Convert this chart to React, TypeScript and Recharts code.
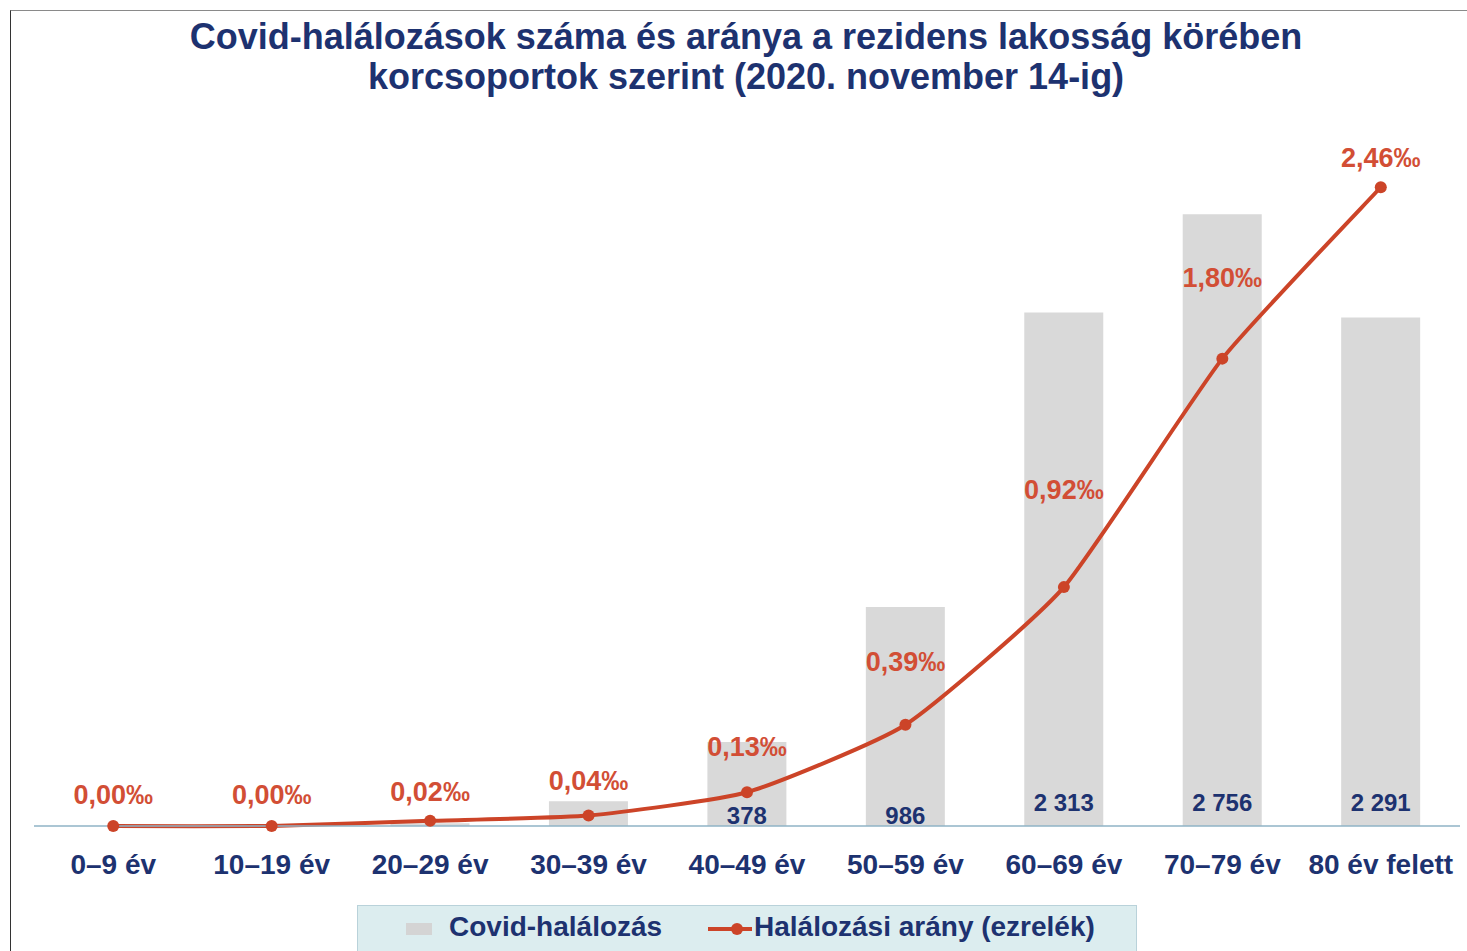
import React from "react";
import { ComposedChart, Bar, Line, XAxis, YAxis, LabelList } from "recharts";

const categories = ["0–9 év", "10–19 év", "20–29 év", "30–39 év", "40–49 év", "50–59 év", "60–69 év", "70–79 év", "80 év felett"];
const deaths = [0, 1, 12, 112, 378, 986, 2313, 2756, 2291];
const rate = [0.0, 0.0, 0.02, 0.04, 0.13, 0.39, 0.92, 1.8, 2.46];
const rateLabels = ["0,00‰", "0,00‰", "0,02‰", "0,04‰", "0,13‰", "0,39‰", "0,92‰", "1,80‰", "2,46‰"];
const deathLabels = ["", "", "", "", "378", "986", "2 313", "2 756", "2 291"];

// label placement (style only)
const rateLabelLift = [31, 31, 29, 35, 45, 63, 97, 81, 29];
const deathLabelDrop = [11, 11, 11, 11, 11, 11, 24, 24, 24];

const data = categories.map((c, i) => ({
  cat: c,
  deaths: deaths[i],
  rate: rate[i],
  idx: i,
}));

const NAVY = "#1d3270";
const RED = "#cc4428";
const RED_TEXT = "#d24e35";
const FONT = "'Liberation Sans', Arial, sans-serif";

// Cardinal-style smoothing (like spreadsheet "smoothed line")
const SMOOTH = 1 / 12;
function smoothCurve(context: any) {
  let pts: [number, number][] = [];
  return {
    areaStart() {},
    areaEnd() {},
    lineStart() {
      pts = [];
    },
    point(x: number, y: number) {
      pts.push([+x, +y]);
    },
    lineEnd() {
      if (!pts.length) return;
      context.moveTo(pts[0][0], pts[0][1]);
      for (let i = 0; i < pts.length - 1; i++) {
        const p0 = pts[Math.max(0, i - 1)];
        const p1 = pts[i];
        const p2 = pts[i + 1];
        const p3 = pts[Math.min(pts.length - 1, i + 2)];
        const c1x = p1[0] + (p2[0] - p0[0]) * SMOOTH;
        const c1y = p1[1] + (p2[1] - p0[1]) * SMOOTH;
        const c2x = p2[0] - (p3[0] - p1[0]) * SMOOTH;
        const c2y = p2[1] - (p3[1] - p1[1]) * SMOOTH;
        context.bezierCurveTo(c1x, c1y, c2x, c2y, p2[0], p2[1]);
      }
    },
  };
}

const RateLabel = (props: any) => {
  const { x, y, index } = props;
  return (
    <text
      x={x}
      y={y - rateLabelLift[index]}
      textAnchor="middle"
      dominantBaseline="central"
      fill={RED_TEXT}
      fontFamily={FONT}
      fontWeight="bold"
      fontSize={27}
    >
      {rateLabels[index]}
    </text>
  );
};

const DeathLabel = (props: any) => {
  const { x, y, width, height, value } = props;
  const i = Number(value);
  const txt = deathLabels[i];
  if (!txt) return null;
  return (
    <text
      x={x + width / 2}
      y={y + height - deathLabelDrop[i]}
      textAnchor="middle"
      dominantBaseline="central"
      fill={NAVY}
      fontFamily={FONT}
      fontWeight="bold"
      fontSize={24}
    >
      {txt}
    </text>
  );
};

export default function App() {
  return (
    <div style={{ position: "absolute", left: 0, top: 0, width: 1467, height: 951, background: "#fff", overflow: "hidden", fontFamily: FONT }}>
      <div style={{ position: "absolute", left: 10, top: 10, width: 1457, height: 941, borderTop: "1px solid #8a8a8a", borderLeft: "1px solid #333", boxSizing: "border-box" }} />
      <div style={{ position: "absolute", left: 0, top: 17, width: 1492, textAlign: "center", color: NAVY, fontWeight: "bold", fontSize: 36, lineHeight: "40px", whiteSpace: "nowrap" }}>
        Covid-halálozások száma és aránya a rezidens lakosság körében
        <br />
        korcsoportok szerint (2020. november 14-ig)
      </div>
      <div style={{ position: "absolute", left: 0, top: 0 }}>
        <ComposedChart width={1467} height={951} data={data} margin={{ top: 160, right: 7, left: 34, bottom: 85 }} barCategoryGap="25%">
          <XAxis
            dataKey="cat"
            height={40}
            axisLine={{ stroke: "#8fb3c6", strokeWidth: 1.5 }}
            tickLine={false}
            tick={{ fill: NAVY, fontSize: 28, fontWeight: "bold", fontFamily: FONT }}
            tickMargin={22}
            interval={0}
          />
          <YAxis yAxisId="left" hide domain={[0, 3000]} />
          <YAxis yAxisId="right" orientation="right" hide domain={[0, 2.565]} />
          <Bar yAxisId="left" dataKey="deaths" fill="#d9d9d9" isAnimationActive={false}>
            <LabelList dataKey="idx" content={DeathLabel} />
          </Bar>
          <Line
            yAxisId="right"
            dataKey="rate"
            type={smoothCurve as any}
            stroke={RED}
            strokeWidth={4}
            dot={{ r: 6, fill: RED, stroke: RED, strokeWidth: 0 }}
            isAnimationActive={false}
          >
            <LabelList dataKey="rate" content={RateLabel} />
          </Line>
        </ComposedChart>
      </div>
      <div style={{ position: "absolute", left: 357, top: 905, width: 780, height: 60, background: "#dcedef", border: "1.5px solid #b9d2da", boxSizing: "border-box" }}>
        <div style={{ position: "absolute", left: 48, top: 17, width: 26, height: 12, background: "#d4d4d4" }} />
        <div style={{ position: "absolute", left: 91, top: 3, color: NAVY, fontWeight: "bold", fontSize: 28, lineHeight: "36px", whiteSpace: "nowrap" }}>Covid-halálozás</div>
        <div style={{ position: "absolute", left: 350, top: 21, width: 44, height: 4, background: RED }} />
        <div style={{ position: "absolute", left: 373, top: 17, width: 12, height: 12, borderRadius: 6, background: RED }} />
        <div style={{ position: "absolute", left: 396, top: 3, color: NAVY, fontWeight: "bold", fontSize: 28, lineHeight: "36px", whiteSpace: "nowrap" }}>Halálozási arány (ezrelék)</div>
      </div>
    </div>
  );
}
